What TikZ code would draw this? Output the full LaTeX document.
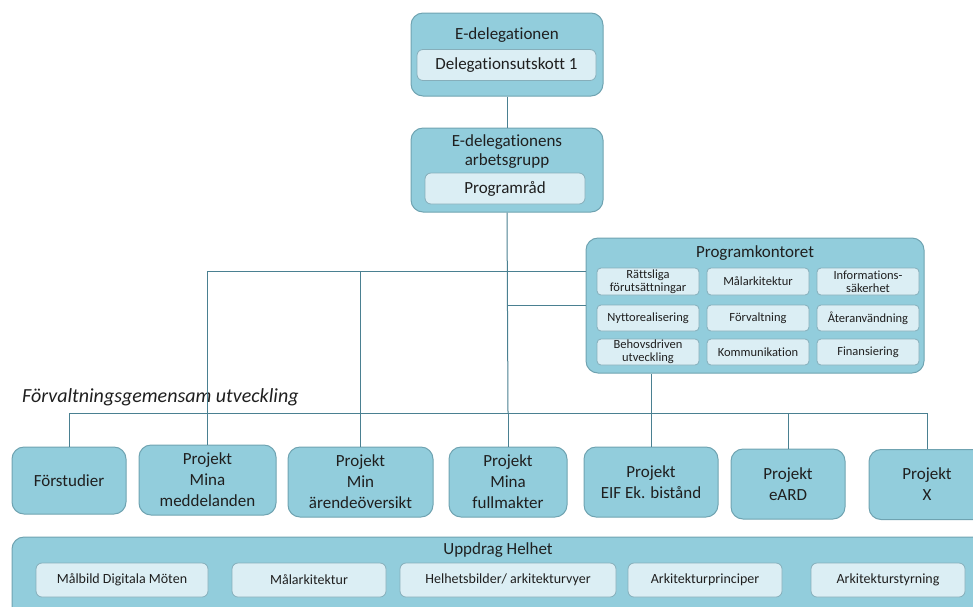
\documentclass[tikz,border=0pt]{standalone}
\usepackage{fontspec}
\setmainfont{Carlito}[Ligatures=NoCommon]
\definecolor{grpfill}{HTML}{92CDDC}
\definecolor{grpline}{HTML}{6FA3B1}
\definecolor{subfill}{HTML}{DBEEF4}
\definecolor{subline}{HTML}{86AEBA}
\definecolor{conn}{HTML}{4A8091}
\begin{document}
\begin{tikzpicture}[x=1pt,y=-1pt,
		grp/.style={draw=grpline,fill=grpfill,rounded corners=12pt,line width=1pt,inner sep=0pt,
					align=center,text=black!88,font=\fontsize{17}{21}\selectfont},
		sub/.style={draw=subline,fill=subfill,rounded corners=6pt,line width=0.8pt,inner sep=0pt,
					align=center,text=black!88,font=\fontsize{17}{19}\selectfont},
		pks/.style={sub,minimum width=102,minimum height=26,rounded corners=4pt,
					font=\fontsize{12.5}{13}\selectfont},
		ups/.style={sub,minimum height=34,font=\fontsize{14}{16}\selectfont},
		ttl/.style={inner sep=0pt,align=center,text=black!88,font=\fontsize{17}{19}\selectfont},
		con/.style={draw=conn,line width=1pt}]
	\clip (0,0) rectangle (973,606);
	\node[grp,minimum width=192,minimum height=83] (edel) at (507,54.5) {};
	\node[ttl] (edelT) at (507,35) {E-delegationen};
	\node[sub,minimum width=179,minimum height=31] (dut) at (506.5,65) {Delegationsutskott 1};
	\node[grp,minimum width=192,minimum height=84] (arb) at (507,170) {};
	\node[ttl] (arbT) at (507,151.5) {E-delegationens\\arbetsgrupp};
	\node[sub,minimum width=160,minimum height=31] (pr) at (505,188.5) {Programråd};
	\node[grp,minimum width=338,minimum height=135] (pk) at (755,305.5) {};
	\node[ttl] (pkT) at (755,253.5) {Programkontoret};
	\node[pks,minimum height=27] (rf) at (648,281.5) {Rättsliga\\förutsättningar};
	\node[pks,minimum height=27] (ma) at (758,281.5) {Målarkitektur};
	\node[pks,minimum height=27] (is) at (868,281.5) {Informations-\\säkerhet};
	\node[pks] (ny) at (648,318) {Nyttorealisering};
	\node[pks] (fv) at (758,318) {Förvaltning};
	\node[pks] (aa) at (868,318) {Återanvändning};
	\node[pks] (bu) at (648,352) {Behovsdriven\\utveckling};
	\node[pks] (ko) at (758,352) {Kommunikation};
	\node[pks] (fi) at (868,352) {Finansiering};
	\node[anchor=west,inner sep=0pt,text=black!88,font=\itshape\fontsize{20}{22}\selectfont] (fgu) at (22,397.5)
		{Förvaltningsgemensam utveckling};
	\node[grp,minimum width=114,minimum height=67] (forst) at (69,480.5) {Förstudier};
	\node[grp,minimum width=137,minimum height=70] (mm) at (207.5,480) {Projekt\\Mina\\meddelanden};
	\node[grp,minimum width=145,minimum height=70] (mao) at (360.5,482) {Projekt\\Min\\ärendeöversikt};
	\node[grp,minimum width=118,minimum height=70] (mf) at (508,482) {Projekt\\Mina\\fullmakter};
	\node[grp,minimum width=134,minimum height=70] (eif) at (651,482) {Projekt\\EIF Ek. bistånd};
	\node[grp,minimum width=114,minimum height=70] (eard) at (788,484) {Projekt\\eARD};
	\node[grp,minimum width=116,minimum height=70] (px) at (927,484.5) {Projekt\\X};
	\node[grp,minimum width=990,minimum height=90] (upp) at (507,582) {};
	\node[ttl] (uppT) at (498,550) {Uppdrag Helhet};
	\node[ups,minimum width=172] (mdm) at (122,580) {Målbild Digitala Möten};
	\node[ups,minimum width=154] (mark) at (309,580) {Målarkitektur};
	\node[ups,minimum width=216] (hb) at (508,580) {Helhetsbilder/ arkitekturvyer};
	\node[ups,minimum width=154] (ap) at (705,580) {Arkitekturprinciper};
	\node[ups,minimum width=154] (as) at (888,580) {Arkitekturstyrning};
	\coordinate (top) at (508,271);
	\coordinate (bus) at (508,413);
	\draw[con] (edel) -- (arb);
	\draw[con] (arb.south) -- (bus);
	\draw[con] (mm.north) |- (pk.west |- top);
	\draw[con] (mao.north) -- (mao.north |- top);
	\draw[con] (pk.west) -- (pk.west -| arb.south);
	\draw[con] (forst.north) |- (bus) -| (px.north);
	\draw[con] (bus) -- (mf.north);
	\draw[con] (eard.north) -- (eard.north |- bus);
	\draw[con] (eif.north) -- (eif.north |- pk.south);
\end{tikzpicture}
\end{document}
